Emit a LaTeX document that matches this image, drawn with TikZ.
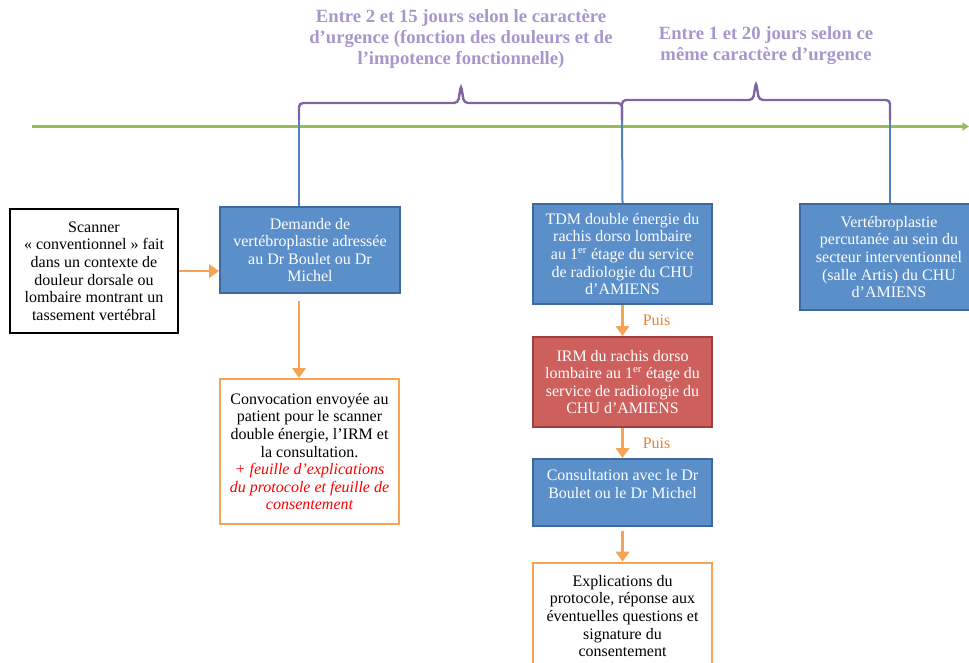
\documentclass[tikz,border=0pt]{standalone}
\usepackage{fontspec}
\setmainfont{Liberation Serif}
\usetikzlibrary{arrows.meta}
\definecolor{boxblue}{RGB}{91,143,201}
\definecolor{edgeblue}{RGB}{62,104,158}
\definecolor{boxred}{RGB}{205,96,92}
\definecolor{edgered}{RGB}{160,62,60}
\definecolor{lineorange}{RGB}{247,163,86}
\definecolor{puisorange}{RGB}{236,128,48}
\definecolor{linegreen}{RGB}{155,187,89}
\definecolor{ticblue}{RGB}{79,129,189}
\definecolor{bracepurple}{RGB}{128,100,162}
\definecolor{titlepurple}{RGB}{168,150,204}
\newcommand{\Boxw}{134pt}
\newcommand{\Rq}[1]{{\color{red}\itshape #1}}
\tikzset{Box/.style={
    inner sep=2pt,
    minimum width=\Boxw,
    align=center,
    font=\fontsize{12}{13.2}\selectfont,
    line width=1.5pt,
    }
}
\tikzset{
  Blue/.style={Box, draw=edgeblue, fill=boxblue, text=white},
  Red/.style={Box, draw=edgered, fill=boxred, text=white},
  Plain/.style={Box, draw=lineorange, fill=white, text=black},
  Arr/.style={draw=lineorange, line width=1.8pt, -{Triangle[length=7.5pt,width=10pt]}},
  Tic/.style={draw=ticblue, line width=1.5pt},
  Accolade/.style={draw=bracepurple, line width=1.8pt, rounded corners=3pt},
  Titre/.style={text=titlepurple, align=center, font=\fontsize{14}{15.8}\selectfont\bfseries},
  Puis/.style={text=puisorange, font=\fontsize{12}{13.2}\selectfont, right, xshift=11pt},
}

\begin{document}
\begin{tikzpicture}[x=0.75pt,y=-0.75pt]
\useasboundingbox (0,0) rectangle (969,662);
\clip (0,0) rectangle (969,662);

% time line and delays
\draw[draw=linegreen, line width=2pt, -{Triangle[length=5pt,width=6pt]}] (32,126.5) -- (969,126.5);
\coordinate (t1) at (299,120);
\coordinate (t2) at (622,120);
\coordinate (t3) at (890,120);
\draw[Accolade] (t1) -- (299,103) -- (458,103) -- (461,85) -- (464,103) -- (622,103) -- (t2);
\draw[Accolade] (t2) -- (622,100) -- (753,100) -- (756,82) -- (759,100) -- (890,100) -- (t3);
\node[Titre] (delai1) at (461,39) {Entre 2 et 15 jours selon le caractère\\ d’urgence (fonction des douleurs et de\\ l’impotence fonctionnelle)};
\node[Titre] (delai2) at (766,46) {Entre 1 et 20 jours selon ce\\ même caractère d’urgence};

% boxes
\node[Box, draw=black, line width=2.2pt, minimum width=126pt, minimum height=93pt] (scan) at (94,271)
  {Scanner\\ « conventionnel » fait\\ dans un contexte de\\ douleur dorsale ou\\ lombaire montrant un\\ tassement vertébral};
\node[Blue, minimum width=135pt, minimum height=64.5pt] (dem) at (310,250)
  {Demande de\\ vertébroplastie adressée\\ au Dr Boulet ou Dr\\ Michel};
\node[Plain, minimum height=108.75pt] (conv) at (309.5,451.5)
  {Convocation envoyée au\\ patient pour le scanner\\ double énergie, l’IRM et\\ la consultation.\\
   \Rq{+ feuille d’explications}\\ \Rq{du protocole et feuille de}\\ \Rq{consentement}};
\node[Blue, minimum height=75pt] (tdm) at (622.5,254)
  {TDM double énergie du\\ rachis dorso lombaire\\ au 1\textsuperscript{er} étage du service\\ de radiologie du CHU\\ d’AMIENS};
\node[Red, minimum height=67.5pt] (irm) at (622.5,382)
  {IRM du rachis dorso\\ lombaire au 1\textsuperscript{er} étage du\\ service de radiologie du\\ CHU d’AMIENS};
\node[Blue, minimum height=50.25pt] (cons) at (622.5,492.5)
  {Consultation avec le Dr\\ Boulet ou le Dr Michel\\ \mbox{}};
\node[Plain, minimum height=80pt] (expl) at (622.5,616)
  {Explications du\\ protocole, réponse aux\\ éventuelles questions et\\ signature du\\ consentement};
\node[Blue, minimum width=133.5pt, minimum height=79.5pt] (vert) at (889,257)
  {Vertébroplastie\\ percutanée au sein du\\ secteur interventionnel\\ (salle Artis) du CHU\\ d’AMIENS};

% links
\draw[Tic] (t1) -- (t1 |- dem.north);
\draw[Tic] (t2) -- (tdm.north);
\draw[Tic] (t3) -- (t3 |- vert.north);
\draw[Arr] (scan.east) -- (dem.west |- scan.east);
\draw[Arr, shorten <=5pt] (dem.south -| t1) -- (conv.north -| t1);
\draw[Arr] (tdm.south) -- (irm.north) node[Puis, midway] (p1) {Puis};
\draw[Arr] (irm.south) -- (cons.north) node[Puis, midway] (p2) {Puis};
\draw[Arr, shorten <=3pt] (cons.south) -- (expl.north);
\end{tikzpicture}
\end{document}
